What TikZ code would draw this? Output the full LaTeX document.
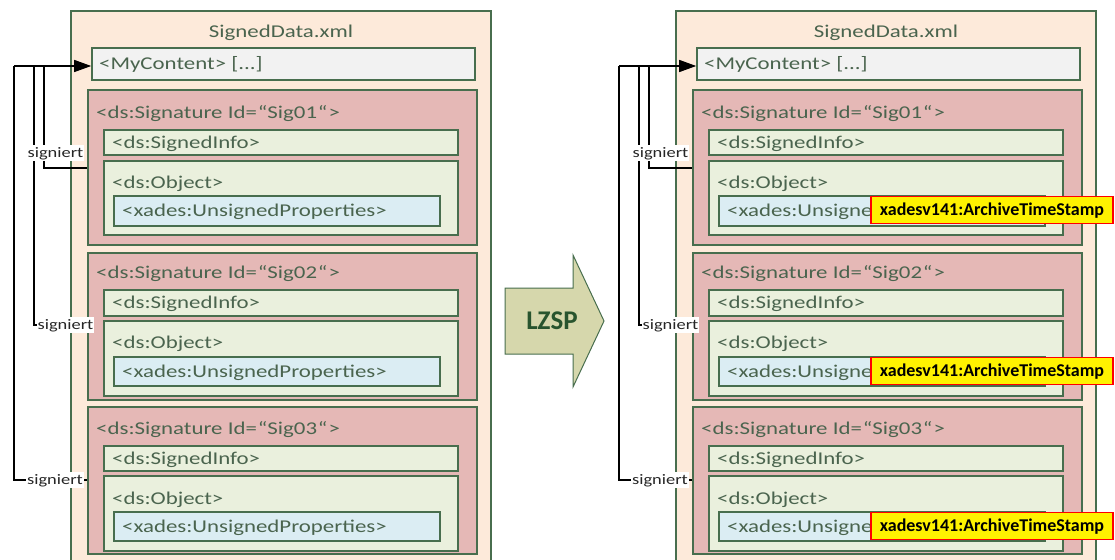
\documentclass[tikz,border=0pt]{standalone}
\usepackage{fontspec}
\setmainfont{Carlito}
\newfontfamily\wfont{Carlito}[FakeStretch=1.27]
\usetikzlibrary{arrows.meta,fit}
\definecolor{peach}{RGB}{253,234,218}
\definecolor{dgreen}{RGB}{72,110,78}
\definecolor{lgray}{RGB}{242,242,242}
\definecolor{sigpink}{RGB}{229,184,182}
\definecolor{lgreen}{RGB}{234,240,221}
\definecolor{lblue}{RGB}{219,237,243}
\definecolor{tgreen}{RGB}{74,100,78}
\definecolor{olive}{RGB}{214,215,172}
\definecolor{lzsp}{RGB}{40,84,46}
\tikzset{
  outerbox/.style={draw=dgreen, fill=peach, line width=1.6pt, inner sep=0pt},
  mcbox/.style={draw=dgreen, fill=lgray, line width=1.6pt, inner sep=0pt},
  sigbox/.style={draw=dgreen, fill=sigpink, line width=1.6pt, inner sep=0pt},
  infobox/.style={draw=dgreen, fill=lgreen, line width=1.6pt, inner sep=0pt},
  upbox/.style={draw=dgreen, fill=lblue, line width=1.6pt, inner sep=0pt},
  txt/.style={text=tgreen, font=\wfont\fontsize{18}{20}\selectfont, anchor=west, inner sep=0pt, text height=14pt, text depth=2.4pt},
  lab/.style={fill=white, text=black!85, font=\wfont\fontsize{14.5}{16}\selectfont, inner sep=1pt, text height=11.5pt, text depth=2.2pt},
  brk/.style={draw=black, line width=1.3pt},
  tsbox/.style={draw=red, fill=yellow, line width=1.2pt, inner sep=0pt, minimum width=242pt, minimum height=27pt, font=\bfseries\fontsize{18}{20}\selectfont, text height=14pt, text depth=2.4pt},
  lzarrow/.style={draw=dgreen, fill=olive, line width=1pt, line join=miter}
}
\newcommand\sigid[1]{<ds:Signature Id=\kern1pt“Sig#1\kern0.8pt“\kern1pt>}
\newcommand\xmldoc[2]{%
\begin{scope}[xshift=#1]
\node[outerbox, fit={(71,11)(491,600)}] (#2doc) {};
\node[txt, anchor=center] (#2title) at (281,32) {SignedData.xml};
\node[mcbox, fit={(92,48)(475,80)}] (#2mc) {};
\node[txt] (#2mct) at (99,64) {<MyContent> [...]};
% Sig01
\node[sigbox, fit={(88,90)(477,245)}] (#2s1) {};
\node[txt] (#2s1t) at (96,113) {\sigid{01}};
\node[infobox, fit={(104,130)(458,155)}] (#2s1i) {};
\node[txt] (#2s1it) at (112,142.5) {<ds:SignedInfo>};
\node[infobox, fit={(104,161)(458,235)}] (#2s1o) {};
\node[txt] (#2s1ot) at (112,183) {<ds:Object>};
\node[upbox, fit={(114,196)(440,226)}] (#2s1u) {};
\node[txt] (#2s1ut) at (122,211) {<xades:UnsignedProperties>};
% Sig02
\node[sigbox, fit={(88,253)(477,400)}] (#2s2) {};
\node[txt] (#2s2t) at (96,273) {\sigid{02}};
\node[infobox, fit={(104,290)(458,316)}] (#2s2i) {};
\node[txt] (#2s2it) at (112,303) {<ds:SignedInfo>};
\node[infobox, fit={(104,321)(458,396)}] (#2s2o) {};
\node[txt] (#2s2ot) at (112,343) {<ds:Object>};
\node[upbox, fit={(114,357)(440,386)}] (#2s2u) {};
\node[txt] (#2s2ut) at (122,371.5) {<xades:UnsignedProperties>};
% Sig03
\node[sigbox, fit={(88,407)(477,554)}] (#2s3) {};
\node[txt] (#2s3t) at (96,429) {\sigid{03}};
\node[infobox, fit={(104,446)(458,471)}] (#2s3i) {};
\node[txt] (#2s3it) at (112,458.5) {<ds:SignedInfo>};
\node[infobox, fit={(104,476)(458,551)}] (#2s3o) {};
\node[txt] (#2s3ot) at (112,499) {<ds:Object>};
\node[upbox, fit={(114,512)(440,541)}] (#2s3u) {};
\node[txt] (#2s3ut) at (122,526.5) {<xades:UnsignedProperties>};
% brackets
\coordinate (#2c1) at (14,66);
\coordinate (#2c2) at (34,66);
\coordinate (#2c3) at (44,66);
\coordinate (#2e1) at (0,168);
\coordinate (#2e2) at (0,325);
\coordinate (#2e3) at (0,480);
\draw[brk] (#2c3) |- (#2s1.west |- #2e1);
\draw[brk] (#2c2) |- (#2s2.west |- #2e2);
\draw[brk] (#2c1) |- (#2s3.west |- #2e3);
\draw[brk, -{Triangle[length=17pt,width=12pt]}] (#2c1) -- (#2c1 -| #2mc.west);
\node[lab] (#2l1) at (55.5,153) {signiert};
\node[lab] (#2l2) at (65.5,325) {signiert};
\node[lab] (#2l3) at (55,480) {signiert};
\end{scope}}
\begin{document}
\begin{tikzpicture}[x=1pt,y=-1pt]
\useasboundingbox (0,0) rectangle (1115,559);
\clip (0,0) rectangle (1115,559);
\xmldoc{0pt}{a}
\xmldoc{605pt}{b}
% timestamps
\node[tsbox] (ts1) at (992,210) {xadesv141:ArchiveTimeStamp};
\node[tsbox] (ts2) at (992,371) {xadesv141:ArchiveTimeStamp};
\node[tsbox] (ts3) at (992,526) {xadesv141:ArchiveTimeStamp};
% LZSP arrow
\draw[lzarrow] (505,288) -- (573,288) -- (573,255) -- (604,321) -- (573,387) -- (573,354) -- (505,354) -- cycle;
\node[text=lzsp, font=\bfseries\fontsize{27}{30}\selectfont, inner sep=0pt, text height=20pt, text depth=2.6pt] (lz) at (552,321) {LZSP};
\end{tikzpicture}
\end{document}
